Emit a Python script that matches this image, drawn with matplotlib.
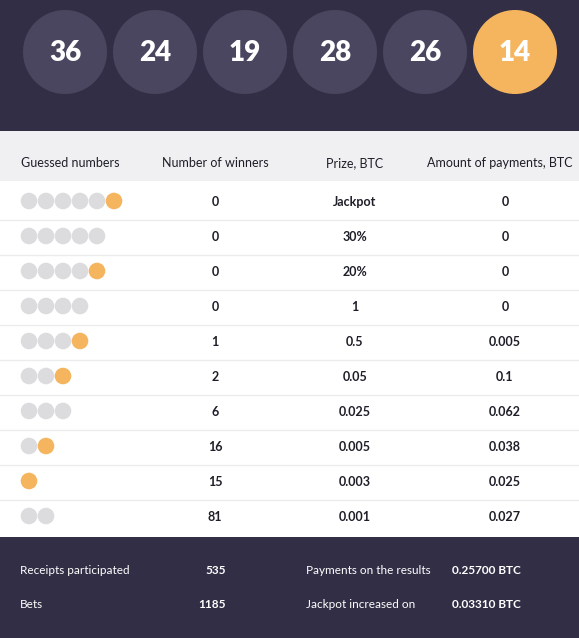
import matplotlib.pyplot as plt
from matplotlib.patches import Circle, Rectangle

DARK = '#322e46'
ORANGE = '#f5b55e'
GRAY = '#dcdcdf'
TEXT = '#1e1e28'

drawn_numbers = [36, 24, 19, 28, 26, 14]
gray_dots = [5, 5, 4, 4, 3, 2, 3, 1, 0, 2]
has_bonus = [True, False, True, False, True, True, False, True, True, False]
winners = ['0', '0', '0', '0', '1', '2', '6', '16', '15', '81']
prizes = ['Jackpot', '30%', '20%', '1', '0.5', '0.05', '0.025', '0.005', '0.003', '0.001']
payments = ['0', '0', '0', '0', '0.005', '0.1', '0.062', '0.038', '0.025', '0.027']
headers = ['Guessed numbers', 'Number of winners', 'Prize, BTC', 'Amount of payments, BTC']
summary_left = [('Receipts participated', '535'), ('Bets', '1185')]
summary_right = [('Payments on the results', '0.25700 BTC'), ('Jackpot increased on', '0.03310 BTC')]

W, H = 579, 638
plt.rcParams['font.family'] = ['Lato', 'DejaVu Sans']
fig = plt.figure(figsize=(W / 100, H / 100), dpi=100, facecolor='white')
ax = fig.add_axes([0, 0, 1, 1])
ax.set_xlim(0, W)
ax.set_ylim(H, 0)
ax.axis('off')

# top band with drawn balls
ax.add_patch(Rectangle((0, 0), W, 131, facecolor=DARK, edgecolor='none'))
for i, n in enumerate(drawn_numbers):
    x = 65 + 90 * i
    color = ORANGE if i == len(drawn_numbers) - 1 else '#4a4660'
    ax.add_patch(Circle((x, 52), 42, facecolor=color, edgecolor='none'))
    ax.text(x, 53, str(n), color='white', fontsize=20, fontweight='heavy',
            ha='center', va='center')

# header row
ax.add_patch(Rectangle((0, 131), W, 50, facecolor='#f0f0f3', edgecolor='none'))
ax.text(21, 163, headers[0], fontsize=9, color=TEXT, ha='left', va='center')
for x, h in zip([215, 355, 500], headers[1:]):
    ax.text(x, 163, h, fontsize=9, color=TEXT, ha='center', va='center')

# table rows
for r in range(len(winners)):
    y = 202 + 35 * r
    for k in range(gray_dots[r]):
        ax.add_patch(Circle((29 + 17 * k, y - 1), 8.3, facecolor=GRAY, edgecolor='none'))
    if has_bonus[r]:
        ax.add_patch(Circle((29 + 17 * gray_dots[r], y - 1), 8.3, facecolor=ORANGE, edgecolor='none'))
    for x, v in zip([215, 355, 505], [winners[r], prizes[r], payments[r]]):
        ax.text(x, y, v, fontsize=9, fontweight='bold', color=TEXT, ha='center', va='center')
    if r < len(winners) - 1:
        ax.plot([0, W], [y + 17.5, y + 17.5], color='#ececef', lw=1)

# summary band
ax.add_patch(Rectangle((0, 537), W, H - 537, facecolor=DARK, edgecolor='none'))
for j, ((l1, v1), (l2, v2)) in enumerate(zip(summary_left, summary_right)):
    y = 570 + 35 * j
    ax.text(20, y, l1, fontsize=8.5, color='white', ha='left', va='center')
    ax.text(226, y, v1, fontsize=8.5, fontweight='bold', color='white', ha='right', va='center')
    ax.text(306, y, l2, fontsize=8.5, color='white', ha='left', va='center')
    ax.text(452, y, v2, fontsize=8.5, fontweight='bold', color='white', ha='left', va='center')

fig.savefig('out.png', dpi=100)
